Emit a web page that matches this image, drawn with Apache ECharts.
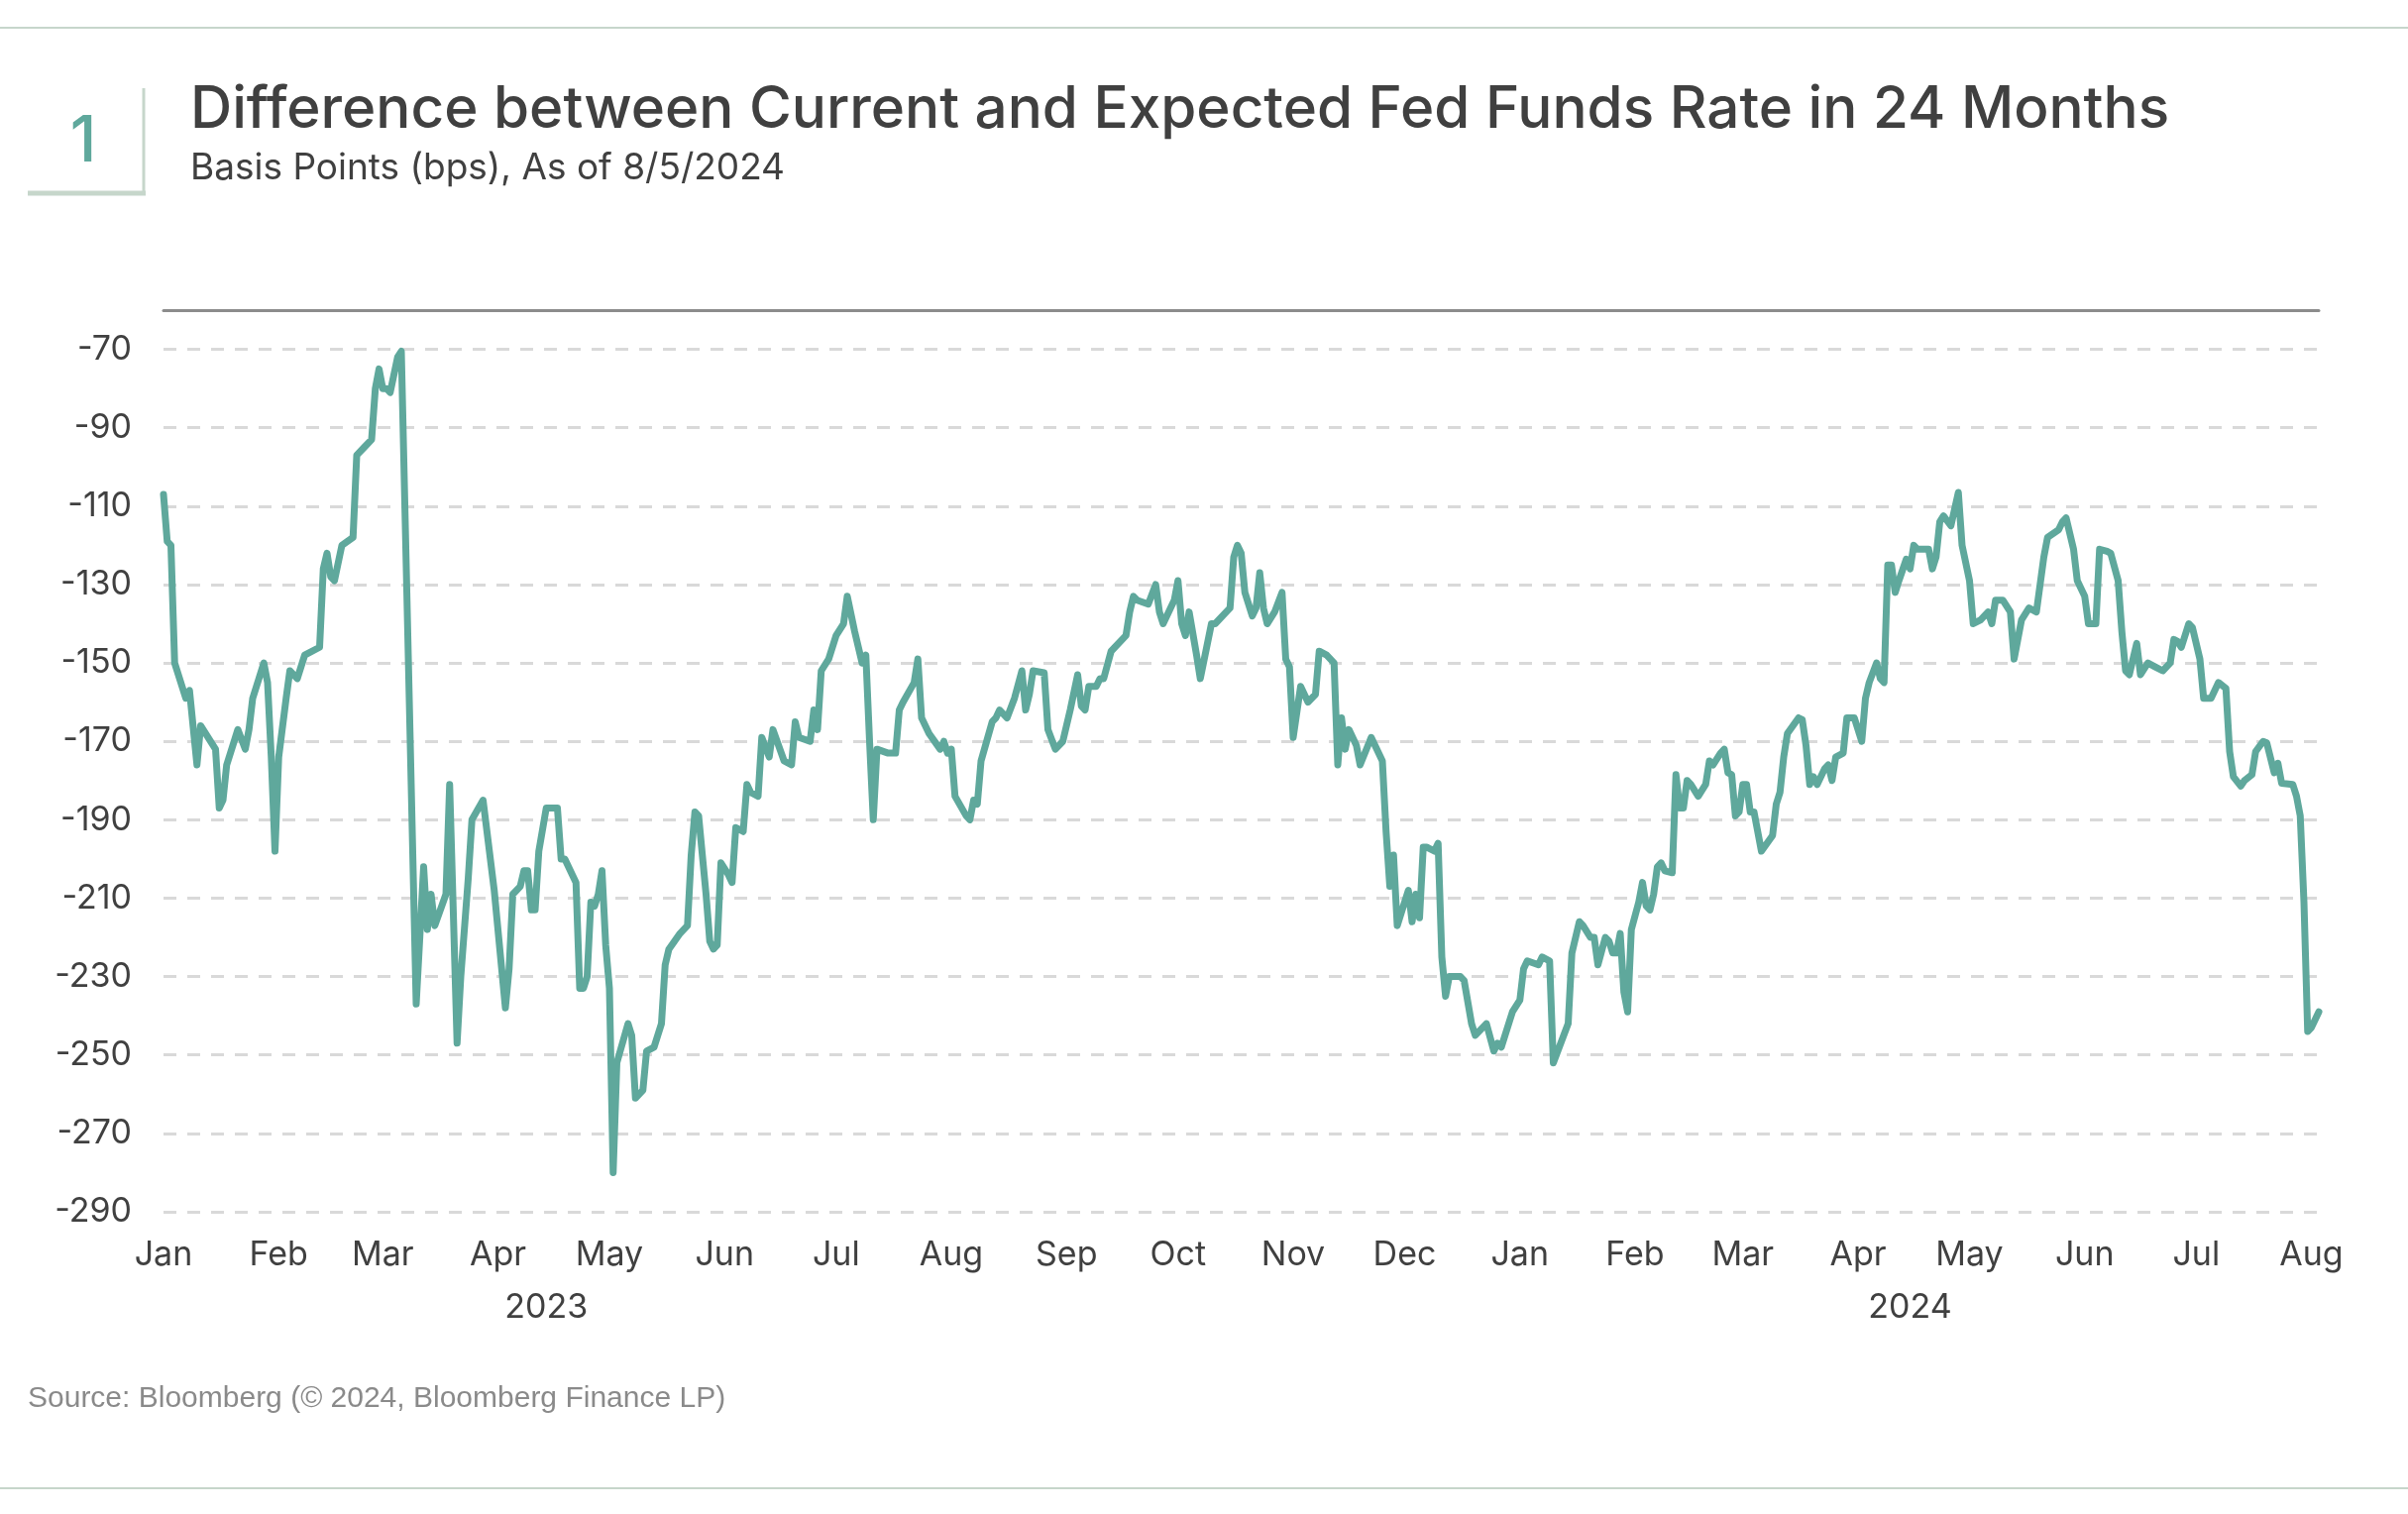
<!DOCTYPE html>
<html>
<head>
<meta charset="utf-8">
<script src="https://cdn.jsdelivr.net/npm/echarts@6/dist/echarts.min.js"></script>
<style>
html,body{margin:0;padding:0;background:#ffffff;}
#chart{width:2430px;height:1528px;}
</style>
</head>
<body>
<div id="chart"></div>
<script>
// ---------------- DATA ----------------
const titleText = 'Difference between Current and Expected Fed Funds Rate in 24 Months';
const subtitleText = 'Basis Points (bps), As of 8/5/2024';
const sourceText = 'Source: Bloomberg (\u00A9 2024, Bloomberg Finance LP)';
const chartNumber = '1';

const dates = [
'2023-01-03','2023-01-04','2023-01-05','2023-01-06','2023-01-09','2023-01-10','2023-01-12','2023-01-13','2023-01-17','2023-01-18',
'2023-01-19','2023-01-20','2023-01-23','2023-01-25','2023-01-26','2023-01-27','2023-01-30','2023-01-31','2023-02-01','2023-02-02',
'2023-02-03','2023-02-05','2023-02-06','2023-02-08','2023-02-10','2023-02-14','2023-02-15','2023-02-16','2023-02-17','2023-02-18',
'2023-02-20','2023-02-23','2023-02-24','2023-02-26','2023-02-28','2023-03-01','2023-03-02','2023-03-03','2023-03-04','2023-03-05',
'2023-03-07','2023-03-08','2023-03-09','2023-03-12','2023-03-14','2023-03-15','2023-03-16','2023-03-17','2023-03-20','2023-03-21',
'2023-03-23','2023-03-24','2023-03-26','2023-03-27','2023-03-30','2023-04-02','2023-04-05','2023-04-06','2023-04-07','2023-04-09',
'2023-04-10','2023-04-11','2023-04-12','2023-04-13','2023-04-14','2023-04-16','2023-04-19','2023-04-20','2023-04-21','2023-04-24',
'2023-04-25','2023-04-26','2023-04-27','2023-04-28','2023-04-29','2023-04-30','2023-05-01','2023-05-02','2023-05-03','2023-05-04',
'2023-05-05','2023-05-08','2023-05-09','2023-05-10','2023-05-12','2023-05-13','2023-05-15','2023-05-17','2023-05-18','2023-05-19',
'2023-05-22','2023-05-24','2023-05-25','2023-05-26','2023-05-27','2023-05-29','2023-05-30','2023-05-31','2023-06-01','2023-06-02',
'2023-06-04','2023-06-05','2023-06-06','2023-06-08','2023-06-09','2023-06-10','2023-06-12','2023-06-13','2023-06-15','2023-06-16',
'2023-06-19','2023-06-21','2023-06-22','2023-06-23','2023-06-26','2023-06-27','2023-06-28','2023-06-29','2023-07-01','2023-07-03',
'2023-07-05','2023-07-06','2023-07-08','2023-07-10','2023-07-11','2023-07-12','2023-07-13','2023-07-14','2023-07-17','2023-07-19',
'2023-07-20','2023-07-21','2023-07-24','2023-07-25','2023-07-26','2023-07-28','2023-07-31','2023-08-01','2023-08-02','2023-08-03',
'2023-08-04','2023-08-07','2023-08-08','2023-08-09','2023-08-10','2023-08-11','2023-08-14','2023-08-15','2023-08-16','2023-08-18',
'2023-08-20','2023-08-22','2023-08-23','2023-08-24','2023-08-25','2023-08-28','2023-08-29','2023-08-31','2023-09-02','2023-09-04',
'2023-09-06','2023-09-07','2023-09-08','2023-09-09','2023-09-11','2023-09-12','2023-09-13','2023-09-15','2023-09-19','2023-09-20',
'2023-09-21','2023-09-22','2023-09-25','2023-09-27','2023-09-28','2023-09-29','2023-10-02','2023-10-03','2023-10-04','2023-10-05',
'2023-10-06','2023-10-08','2023-10-09','2023-10-12','2023-10-13','2023-10-17','2023-10-18','2023-10-19','2023-10-20','2023-10-21',
'2023-10-23','2023-10-24','2023-10-25','2023-10-26','2023-10-27','2023-10-29','2023-10-31','2023-11-01','2023-11-02','2023-11-03',
'2023-11-05','2023-11-07','2023-11-09','2023-11-10','2023-11-12','2023-11-14','2023-11-15','2023-11-16','2023-11-17','2023-11-18',
'2023-11-20','2023-11-21','2023-11-24','2023-11-27','2023-11-28','2023-11-29','2023-11-30','2023-12-01','2023-12-04','2023-12-05',
'2023-12-06','2023-12-07','2023-12-08','2023-12-09','2023-12-11','2023-12-12','2023-12-13','2023-12-14','2023-12-15','2023-12-18',
'2023-12-19','2023-12-21','2023-12-22','2023-12-25','2023-12-27','2023-12-28','2023-12-29','2024-01-01','2024-01-03','2024-01-04',
'2024-01-05','2024-01-08','2024-01-09','2024-01-11','2024-01-12','2024-01-16','2024-01-17','2024-01-19','2024-01-20','2024-01-22',
'2024-01-23','2024-01-24','2024-01-26','2024-01-27','2024-01-28','2024-01-29','2024-01-30','2024-01-31','2024-02-01','2024-02-02',
'2024-02-04','2024-02-05','2024-02-06','2024-02-07','2024-02-08','2024-02-09','2024-02-10','2024-02-11','2024-02-13','2024-02-14',
'2024-02-15','2024-02-16','2024-02-17','2024-02-18','2024-02-20','2024-02-22','2024-02-23','2024-02-24','2024-02-26','2024-02-27',
'2024-02-28','2024-02-29','2024-03-01','2024-03-02','2024-03-03','2024-03-04','2024-03-05','2024-03-06','2024-03-07','2024-03-08',
'2024-03-11','2024-03-12','2024-03-13','2024-03-14','2024-03-15','2024-03-18','2024-03-19','2024-03-20','2024-03-21','2024-03-22',
'2024-03-23','2024-03-25','2024-03-26','2024-03-27','2024-03-28','2024-03-30','2024-03-31','2024-04-02','2024-04-04','2024-04-05',
'2024-04-06','2024-04-08','2024-04-09','2024-04-10','2024-04-11','2024-04-12','2024-04-13','2024-04-14','2024-04-16','2024-04-17',
'2024-04-18','2024-04-19','2024-04-22','2024-04-23','2024-04-24','2024-04-25','2024-04-26','2024-04-28','2024-04-30','2024-05-01',
'2024-05-03','2024-05-04','2024-05-06','2024-05-08','2024-05-09','2024-05-10','2024-05-12','2024-05-14','2024-05-15','2024-05-17',
'2024-05-19','2024-05-21','2024-05-23','2024-05-24','2024-05-27','2024-05-28','2024-05-29','2024-05-31','2024-06-01','2024-06-03',
'2024-06-04','2024-06-06','2024-06-07','2024-06-09','2024-06-10','2024-06-12','2024-06-13','2024-06-14','2024-06-15','2024-06-16',
'2024-06-17','2024-06-18','2024-06-20','2024-06-22','2024-06-24','2024-06-26','2024-06-27','2024-06-28','2024-06-29','2024-07-01',
'2024-07-02','2024-07-04','2024-07-05','2024-07-07','2024-07-09','2024-07-11','2024-07-12','2024-07-13','2024-07-15','2024-07-16',
'2024-07-18','2024-07-19','2024-07-21','2024-07-22','2024-07-24','2024-07-25','2024-07-26','2024-07-29','2024-07-30','2024-07-31',
'2024-08-01','2024-08-02','2024-08-03','2024-08-05'
];

const values = [
-107,-119,-120,-150,-159,-157,-176,-166,-172,-187,
-185,-176,-167,-172,-167,-159,-150,-155,-174,-198,
-174,-159,-152,-154,-148,-146,-126,-122,-128,-129,
-120,-118,-97,-95,-93,-80,-75,-80,-80,-81,
-72,-70.5,-112,-237,-202,-218,-209,-217,-209,-181,
-247,-230,-205,-190,-185,-208,-238,-228,-209,-207,
-203,-203,-213,-213,-198,-187,-187,-200,-200,-206,
-233,-233,-230,-211,-212,-209,-203,-222,-233,-280,
-252,-242,-245,-261,-259,-249,-248,-242,-227,-223,
-219,-217,-199,-188,-189,-209,-221,-223,-222,-201,
-204,-206,-192,-193,-181,-183,-184,-169,-174,-167,
-175,-176,-165,-169,-170,-162,-167,-152,-149,-143,
-140,-133,-142,-150,-148,-170,-190,-172,-173,-173,
-162,-160,-155,-149,-164,-168,-172,-170,-173,-172,
-184,-189,-190,-185,-186,-175,-165,-164,-162,-164,
-159,-152,-162,-158,-152,-152.5,-167,-172,-170,-162,
-153,-161,-162,-156,-156,-154,-154,-147,-143,-137,
-133,-134,-135,-130,-137,-140,-134,-129,-140,-143,
-137,-148,-154,-140,-140,-136,-123,-120,-122,-132,
-138,-136,-127,-136,-140,-137,-132,-149,-151,-169,
-156,-160,-158,-147,-148,-150,-176,-164,-172,-167,
-171,-176,-169,-175,-193,-207,-199,-217,-208,-216,
-209,-215,-197,-197,-198,-196,-225,-235,-230,-230,
-231,-242,-245,-242,-249,-247,-248,-239,-236,-228,
-226,-227,-225,-226,-252,-242,-224,-216,-217,-220,
-220,-227,-220,-221,-224,-224,-219,-234,-239,-218,
-211,-206,-212,-213,-209,-202,-201,-203,-203.5,-178.5,
-187,-187,-180,-181,-184,-181,-175,-176,-173,-172,
-178,-178.5,-189,-188,-181,-181,-188,-188,-193,-198,
-194,-186,-183,-174,-168,-164,-164.5,-171,-181,-179,
-181,-177,-176,-180,-174,-173,-164,-164,-170,-159,
-155,-150,-154,-155,-125,-125,-132,-129,-123.5,-126,
-120,-121,-121,-126,-123,-114,-112.5,-115,-106.5,-120,
-129,-140,-139,-137,-140,-134,-134,-137,-149,-139,
-136,-137,-123,-118,-116,-114,-113,-121,-129,-133,
-140,-140,-121,-121.5,-122,-129,-142,-152,-153,-149,
-145,-153,-150,-151,-152,-150,-144,-144.5,-146,-140,
-141,-149,-159,-159,-155,-156.5,-172.6,-179,-181.4,-180,
-178.5,-172.6,-170,-170.4,-178,-175.6,-180.7,-181,-184,-189,
-211,-244,-243,-239
];

// axis tick labels
const yTicks = [-290, -270, -250, -230, -210, -190, -170, -150, -130, -110, -90, -70];
const monthStarts = ['2023-01-01','2023-02-01','2023-03-01','2023-04-01','2023-05-01','2023-06-01','2023-07-01',
  '2023-08-01','2023-09-01','2023-10-01','2023-11-01','2023-12-01','2024-01-01','2024-02-01','2024-03-01',
  '2024-04-01','2024-05-01','2024-06-01','2024-07-01','2024-08-01'];
const monthNames = ['Jan','Feb','Mar','Apr','May','Jun','Jul','Aug','Sep','Oct','Nov','Dec'];
const yearNames = ['2023', '2024'];
const yearLabelDates = ['2023-04-16', '2024-04-17'];

// ---------------- BUILD ----------------
const DAY = 86400000;
function ts(s) { const p = s.split('-').map(Number); return Date.UTC(p[0], p[1] - 1, p[2]); }
const seriesData = dates.map((d, i) => [ts(d), values[i]]);
const tMin = ts(dates[0]);
const tMax = ts(dates[dates.length - 1]);

// in the source chart each month label sits about two days after the month start
const LABEL_SHIFT = 2 * DAY;
const monthTickValues = monthStarts.map(d => ts(d) + LABEL_SHIFT);
const monthLabelMap = {};
monthStarts.forEach((d, i) => { monthLabelMap[monthTickValues[i]] = monthNames[new Date(ts(d)).getUTCMonth()]; });
const yearTickValues = yearLabelDates.map(ts);
const yearLabelMap = {};
yearTickValues.forEach((v, i) => { yearLabelMap[v] = yearNames[i]; });

const FONT = 'Inter, "Noto Sans", "DejaVu Sans", sans-serif';
const TEXT = '#404040';
const TEAL = '#5fa89c';
const SAGE = '#c6d6cb';

const chart = echarts.init(document.getElementById('chart'), null, { renderer: 'canvas' });

// the date axis is a linear value axis over UTC timestamps
function dateAxis(extra) {
  return Object.assign({
    type: 'value', min: tMin, max: tMax, scale: true,
    axisLine: { show: false }, axisTick: { show: false }, splitLine: { show: false },
    axisLabel: { show: false }
  }, extra);
}

const option = {
  backgroundColor: '#ffffff',
  animation: false,
  grid: { left: 165, right: 90, top: 313, bottom: 305, containLabel: false },
  xAxis: [
    dateAxis({
      axisLabel: {
        show: true,
        customValues: monthTickValues,
        formatter: v => monthLabelMap[v] || '',
        color: TEXT, fontSize: 34, fontFamily: FONT, margin: 27,
        hideOverlap: false
      }
    }),
    dateAxis({
      position: 'bottom', offset: 53,
      axisLabel: {
        show: true,
        customValues: yearTickValues,
        formatter: v => yearLabelMap[v] || '',
        color: TEXT, fontSize: 34, fontFamily: FONT, margin: 27,
        hideOverlap: false
      }
    }),
    dateAxis({
      position: 'top',
      axisLine: { show: true, lineStyle: { color: '#8c8c8c', width: 3 } }
    })
  ],
  yAxis: {
    type: 'value', min: -290, max: -60, interval: 20,
    axisLine: { show: false }, axisTick: { show: false },
    axisLabel: {
      customValues: yTicks,
      color: TEXT, fontSize: 34, fontFamily: FONT, margin: 32
    },
    splitLine: {
      show: true, showMaxLine: false,
      lineStyle: { color: '#d9d9d9', width: 3, type: [13, 11] }
    }
  },
  series: [{
    type: 'line',
    xAxisIndex: 0, yAxisIndex: 0,
    data: seriesData,
    showSymbol: false, symbol: 'none',
    lineStyle: { color: TEAL, width: 7, join: 'round', cap: 'round' },
    smooth: false
  }],
  graphic: [
    { type: 'line', shape: { x1: 0, y1: 28, x2: 2430, y2: 28 }, style: { stroke: SAGE, lineWidth: 2 } },
    { type: 'line', shape: { x1: 0, y1: 1502, x2: 2430, y2: 1502 }, style: { stroke: SAGE, lineWidth: 2 } },
    { type: 'line', shape: { x1: 145, y1: 89, x2: 145, y2: 197 }, style: { stroke: SAGE, lineWidth: 3 } },
    { type: 'line', shape: { x1: 28, y1: 195, x2: 147, y2: 195 }, style: { stroke: SAGE, lineWidth: 5 } },
    { type: 'text', x: 84, y: 144, style: { text: chartNumber, fill: TEAL, font: '500 64px ' + FONT, textAlign: 'center', textVerticalAlign: 'middle' } },
    { type: 'text', x: 192, y: 111, style: { text: titleText, fill: TEXT, font: '500 58.4px ' + FONT, textAlign: 'left', textVerticalAlign: 'middle' } },
    { type: 'text', x: 192, y: 170, style: { text: subtitleText, fill: TEXT, font: '400 37px ' + FONT, textAlign: 'left', textVerticalAlign: 'middle' } },
    { type: 'text', x: 28, y: 1412, style: { text: sourceText, fill: '#8a8a8a', font: '400 30px "Liberation Sans", Arial, sans-serif', textAlign: 'left', textVerticalAlign: 'middle' } }
  ]
};
chart.setOption(option);
</script>
</body>
</html>
